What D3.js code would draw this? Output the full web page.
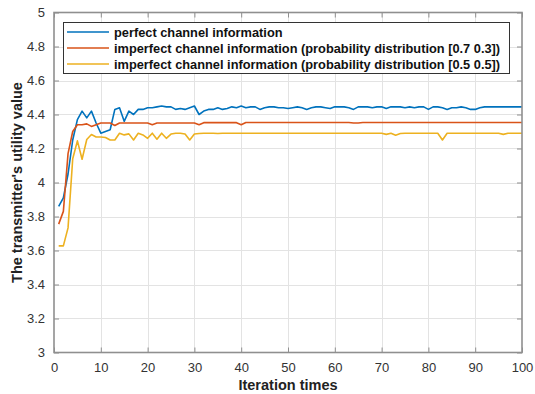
<!DOCTYPE html>
<html>
<head>
<meta charset="utf-8">
<script src="https://cdn.jsdelivr.net/npm/d3@7"></script>
<style>
  html, body { margin: 0; padding: 0; background: #ffffff; }
  svg { display: block; }
  text { font-family: Arial, "Liberation Sans", Helvetica, sans-serif; }
</style>
</head>
<body>
<svg id="chart" width="535" height="394"></svg>
<script>
// Utility of the transmitter per iteration (iterations 1..100)
const perfect = [
  3.86, 3.91, 4.05, 4.25, 4.37, 4.42, 4.38, 4.42, 4.35, 4.29,
  4.30, 4.31, 4.43, 4.44, 4.36, 4.42, 4.40, 4.43, 4.43, 4.44,
  4.44, 4.445, 4.45, 4.445, 4.445, 4.43, 4.435, 4.43, 4.44, 4.45,
  4.40, 4.42, 4.43, 4.43, 4.44, 4.43, 4.435, 4.445, 4.44, 4.45,
  4.44, 4.445, 4.445, 4.43, 4.44, 4.445, 4.445, 4.44, 4.44, 4.435,
  4.44, 4.445, 4.44, 4.43, 4.44, 4.445, 4.445, 4.44, 4.435, 4.445,
  4.445, 4.445, 4.44, 4.43, 4.445, 4.445, 4.445, 4.44, 4.445, 4.445,
  4.435, 4.445, 4.445, 4.445, 4.44, 4.445, 4.44, 4.445, 4.445, 4.43,
  4.445, 4.445, 4.44, 4.43, 4.44, 4.44, 4.445, 4.44, 4.43, 4.43,
  4.44, 4.445, 4.445, 4.445, 4.445, 4.445, 4.445, 4.445, 4.445, 4.445
];
const imperfect73 = [
  3.755, 3.83, 4.17, 4.30, 4.34, 4.34, 4.345, 4.33, 4.34, 4.35,
  4.35, 4.35, 4.335, 4.35, 4.35, 4.35, 4.35, 4.35, 4.35, 4.35,
  4.34, 4.35, 4.35, 4.35, 4.35, 4.35, 4.35, 4.35, 4.35, 4.35,
  4.34, 4.352, 4.352, 4.352, 4.352, 4.352, 4.352, 4.352, 4.352, 4.34,
  4.353, 4.353, 4.353, 4.353, 4.353, 4.353, 4.353, 4.353, 4.353, 4.353,
  4.353, 4.353, 4.353, 4.353, 4.353, 4.353, 4.353, 4.353, 4.353, 4.353,
  4.353, 4.353, 4.353, 4.35, 4.35, 4.353, 4.353, 4.353, 4.353, 4.353,
  4.353, 4.353, 4.353, 4.353, 4.353, 4.353, 4.353, 4.353, 4.353, 4.353,
  4.353, 4.353, 4.353, 4.353, 4.353, 4.353, 4.353, 4.353, 4.353, 4.353,
  4.353, 4.353, 4.353, 4.353, 4.353, 4.353, 4.353, 4.353, 4.353, 4.353
];
const imperfect55 = [
  3.627, 3.627, 3.733, 4.14, 4.245, 4.137, 4.253, 4.282, 4.268, 4.268,
  4.265, 4.25, 4.25, 4.29, 4.28, 4.286, 4.25, 4.29, 4.28, 4.26,
  4.29, 4.255, 4.29, 4.26, 4.285, 4.29, 4.29, 4.285, 4.25, 4.285,
  4.288, 4.29, 4.29, 4.29, 4.288, 4.29, 4.29, 4.29, 4.29, 4.29,
  4.29, 4.29, 4.29, 4.29, 4.29, 4.29, 4.29, 4.29, 4.29, 4.29,
  4.29, 4.29, 4.29, 4.29, 4.29, 4.29, 4.29, 4.29, 4.29, 4.29,
  4.29, 4.29, 4.29, 4.29, 4.29, 4.29, 4.29, 4.29, 4.29, 4.29,
  4.283, 4.29, 4.278, 4.288, 4.29, 4.29, 4.29, 4.29, 4.29, 4.29,
  4.29, 4.29, 4.25, 4.29, 4.29, 4.29, 4.29, 4.29, 4.29, 4.29,
  4.29, 4.29, 4.29, 4.29, 4.29, 4.283, 4.29, 4.29, 4.29, 4.29
];

const seriesNames = [
  "perfect channel information",
  "imperfect channel information (probability distribution [0.7 0.3])",
  "imperfect channel information (probability distribution [0.5 0.5])"
];
const seriesColors = ["#0072BD", "#D95319", "#EDB120"];
const xTicks = [0, 10, 20, 30, 40, 50, 60, 70, 80, 90, 100];
const yTicks = [3, 3.2, 3.4, 3.6, 3.8, 4, 4.2, 4.4, 4.6, 4.8, 5];

const series = [perfect, imperfect73, imperfect55];

const margin = { left: 54, right: 13, top: 12.5, bottom: 41.5 };
const W = 535, H = 394;
const svg = d3.select("#chart");

const x = d3.scaleLinear().domain([0, 100]).range([margin.left, W - margin.right]);
const y = d3.scaleLinear().domain([3, 5]).range([H - margin.bottom, margin.top]);

const x0 = x.range()[0], x1 = x.range()[1];
const y0 = y.range()[0], y1 = y.range()[1];

// grid
const grid = svg.append("g").attr("stroke", "#e3e3e3").attr("stroke-width", 1);
grid.selectAll(".gx").data(xTicks.slice(1, -1)).join("line")
  .attr("x1", d => Math.round(x(d)) + 0.5).attr("x2", d => Math.round(x(d)) + 0.5)
  .attr("y1", y1).attr("y2", y0);
grid.selectAll(".gy").data(yTicks.slice(1, -1)).join("line")
  .attr("y1", d => Math.round(y(d)) + 0.5).attr("y2", d => Math.round(y(d)) + 0.5)
  .attr("x1", x0).attr("x2", x1);

// series lines
const line = d3.line().x((d, i) => x(i + 1)).y(d => y(d));
series.forEach((s, k) => {
  svg.append("path").datum(s)
    .attr("fill", "none")
    .attr("stroke", seriesColors[k])
    .attr("stroke-width", 1.6)
    .attr("stroke-linejoin", "round")
    .attr("d", line);
});

// axes (ticks pointing inward, box on all sides)
const axisColor = "#8f8f8f";
const labelColor = "#333333";
function styleAxis(g) {
  g.select(".domain").remove();
  g.selectAll(".tick line").attr("stroke", axisColor).attr("stroke-width", 1);
  g.selectAll(".tick text").attr("fill", labelColor).style("font-size", "13px");
}
svg.append("g").attr("transform", `translate(0,${y0})`)
  .call(d3.axisBottom(x).tickValues(xTicks).tickSizeInner(-5).tickSizeOuter(0).tickPadding(10).tickFormat(d3.format("d")))
  .call(styleAxis);
svg.append("g").attr("transform", `translate(0,${y1})`)
  .call(d3.axisTop(x).tickValues(xTicks).tickSizeInner(-5).tickSizeOuter(0).tickFormat(""))
  .call(styleAxis);
svg.append("g").attr("transform", `translate(${x0},0)`)
  .call(d3.axisLeft(y).tickValues(yTicks).tickSizeInner(-5).tickSizeOuter(0).tickPadding(9).tickFormat(d3.format("~g")))
  .call(styleAxis);
svg.append("g").attr("transform", `translate(${x1},0)`)
  .call(d3.axisRight(y).tickValues(yTicks).tickSizeInner(-5).tickSizeOuter(0).tickFormat(""))
  .call(styleAxis);

svg.append("rect")
  .attr("x", x0).attr("y", y1).attr("width", x1 - x0).attr("height", y0 - y1)
  .attr("fill", "none").attr("stroke", axisColor).attr("stroke-width", 1.6);

// axis titles
svg.append("text")
  .attr("x", (x0 + x1) / 2).attr("y", 390)
  .attr("text-anchor", "middle")
  .attr("fill", "#222").style("font-size", "14.5px").style("font-weight", "bold")
  .text("Iteration times");
svg.append("text")
  .attr("transform", `translate(22,${(y0 + y1) / 2}) rotate(-90)`)
  .attr("text-anchor", "middle")
  .attr("fill", "#222").style("font-size", "14.5px").style("font-weight", "bold")
  .text("The transmitter's utility value");

// legend
const leg = svg.append("g");
const legX = 63.5, legY = 22.5, legW = 446, legH = 51;
leg.append("rect").attr("x", legX).attr("y", legY).attr("width", legW).attr("height", legH)
  .attr("fill", "#ffffff").attr("stroke", "#333").attr("stroke-width", 1);
seriesNames.forEach((name, k) => {
  const cy = legY + 9.5 + k * 16;
  leg.append("line").attr("x1", 67).attr("x2", 109).attr("y1", cy).attr("y2", cy)
    .attr("stroke", seriesColors[k]).attr("stroke-width", 1.6);
  leg.append("text").attr("x", 114).attr("y", cy + 4.5)
    .attr("fill", "#111").style("font-size", "12.8px").style("font-weight", "bold")
    .text(name);
});
</script>
</body>
</html>
